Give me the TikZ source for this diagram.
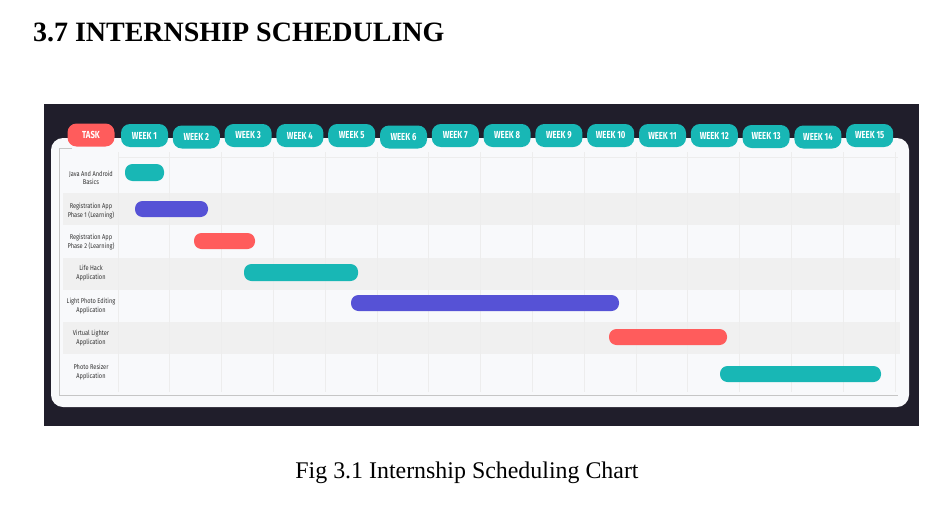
\documentclass[tikz,border=0pt]{standalone}
\usepackage{fontspec}
\setmainfont{Liberation Serif}
\newfontfamily\labelfont[FakeStretch=0.82]{Fira Sans}
\newfontfamily\pillfont[FakeStretch=0.76]{Fira Sans Bold}
\begin{document}
\begin{tikzpicture}[x={(1pt,0)},y={(0,-1pt)},
  every node/.style={inner sep=0pt,outer sep=0pt},
  pill/.style={fill=#1,rounded corners=9pt,minimum width=47pt,minimum height=23pt,
    text=white,font=\pillfont\fontsize{10.2}{10}\selectfont},
  bar/.style={fill=#1,rounded corners=7.5pt},
  rowlabel/.style={align=center,text=black!80,font=\labelfont\fontsize{6.9}{8.6}\selectfont},
  gridline/.style={draw=gray!14,line width=0.7pt}]
\definecolor{teal}{RGB}{24,183,181}
\definecolor{violet}{RGB}{86,82,214}
\definecolor{coral}{RGB}{255,92,92}
\definecolor{frame}{RGB}{32,30,43}
\definecolor{panel}{RGB}{248,249,251}
\definecolor{band}{RGB}{240,240,240}
\useasboundingbox (0,0) rectangle (944,519);
\fill[white] (0,0) rectangle (944,519);

% heading and caption
\node[anchor=west,font=\bfseries\fontsize{28}{28}\selectfont] (title) at (33,32) {3.7 INTERNSHIP SCHEDULING};
\node[font=\fontsize{23.9}{24}\selectfont] (caption) at (467,473) {Fig 3.1 Internship Scheduling Chart};

% dark frame and light panel
\fill[frame] (44,104) rectangle (919,426);
\fill[panel,rounded corners=12pt] (51,138) rectangle (909,407);

% shaded rows
\foreach \t/\b in {193/225,258/290,322/354}
  \fill[band] (63,\t) rectangle (900,\b);

% grid
\draw[gridline] (118,157) -- (898,157);
\foreach \k in {0,...,15}
  \draw[gridline] ({118+51.8*\k},152) -- ({118+51.8*\k},392);
\draw[gray!45,line width=0.8pt] (72,148) -- (59,148) -- (59,395) -- (898,395);

% header pills
\node[pill=coral] (task) at (91,135) {TASK};
\foreach \k/\dy in {1/0,2/1.5,3/0,4/0,5/0,6/1.5,7/0,8/0,9/0,10/0,11/0,12/0,13/1,14/1.5,15/0}
  \node[pill=teal] (week\k) at ({144.5+51.8*(\k-1)},{135.5+\dy}) {WEEK \k};

% task names
\node[rowlabel] (t1) at (91,178) {Java And Android\\Basics};
\node[rowlabel] (t2) at (91,211) {Registration App\\Phase 1 (Learning)};
\node[rowlabel] (t3) at (91,242) {Registration App\\Phase 2 (Learning)};
\node[rowlabel] (t4) at (91,273) {Life Hack\\Application};
\node[rowlabel] (t5) at (91,306) {Light Photo Editing\\Application};
\node[rowlabel] (t6) at (91,338) {Virtual Lighter\\Application};
\node[rowlabel] (t7) at (91,372) {Photo Resizer\\Application};

% schedule bars
\fill[bar=teal]   (125,164) rectangle (164,181);
\fill[bar=violet] (135,201) rectangle (208,217);
\fill[bar=coral]  (194,233) rectangle (255,249);
\fill[bar=teal]   (244,264) rectangle (358,281);
\fill[bar=violet] (351,295) rectangle (619,311);
\fill[bar=coral]  (609,329) rectangle (727,345);
\fill[bar=teal]   (720,366) rectangle (881,382);
\end{tikzpicture}
\end{document}
